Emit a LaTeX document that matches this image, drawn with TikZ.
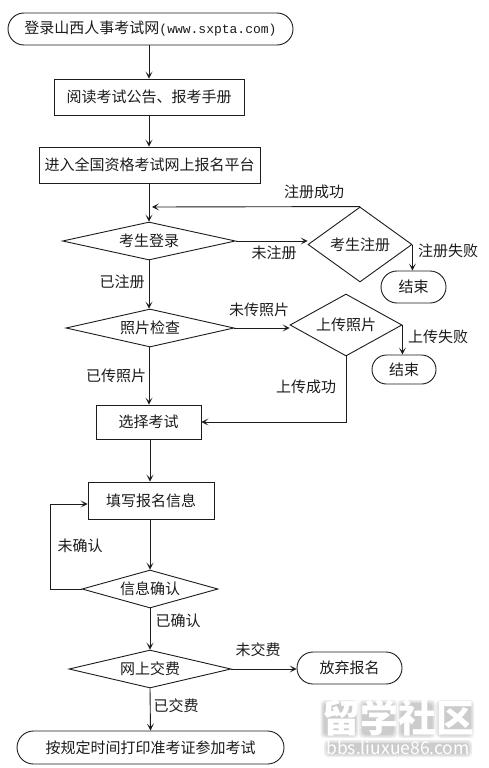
\documentclass[tikz,border=0pt]{standalone}
\usepackage{fontspec}
\setmainfont{Noto Sans CJK SC}
\newfontfamily\latfont{Liberation Mono}
\usetikzlibrary{shapes.geometric,shapes.misc,arrows.meta,calc}
\definecolor{ink}{HTML}{1C1C1C}
\tikzset{
  base/.style={draw=ink,line width=0.9pt,text=ink,inner sep=0pt,font=\fontsize{15}{16}\selectfont},
  boxn/.style={base,rectangle,anchor=center},
  term/.style={base,rounded rectangle},
  dia/.style={base,diamond},
  lab/.style={text=ink,inner sep=0pt,font=\fontsize{15}{16}\selectfont},
  conn/.style={draw=ink,line width=0.9pt,-{Stealth[length=7pt,width=7pt,inset=3.5pt]}},
  soft/.style={fill=black,opacity=0.07,rounded corners=4pt},
}
\begin{document}
\begin{tikzpicture}[x=1pt,y=-1pt]
\useasboundingbox (0,0) rectangle (488,768);
\fill[white] (0,0) rectangle (488,768);
% nodes
\node[term,minimum width=285pt,minimum height=32pt] (top) at (150.5,29) {登录山西人事考试网{\latfont\fontsize{13}{14}\selectfont (www.sxpta.com)}};
\node[boxn,minimum width=190pt,minimum height=36pt] (read) at (149,97) {阅读考试公告、报考手册};
\node[boxn,minimum width=221pt,minimum height=36pt] (enter) at (149.5,165) {进入全国资格考试网上报名平台};
\node[dia,aspect=4.5,minimum width=173pt,minimum height=38pt] (login) at (149,241) {考生登录};
\node[dia,aspect=1.4,minimum width=104pt,minimum height=75pt] (reg) at (360,244.5) {考生注册};
\node[term,minimum width=65pt,minimum height=32pt] (endA) at (413.5,287) {结束};
\node[dia,aspect=4.4,minimum width=168pt,minimum height=38pt] (photo) at (150,328) {照片检查};
\node[dia,aspect=1.8,minimum width=112pt,minimum height=62pt] (upload) at (346,325) {上传照片};
\node[term,minimum width=64pt,minimum height=29pt] (endB) at (404,369.5) {结束};
\node[boxn,minimum width=105pt,minimum height=34pt] (select) at (148.5,422) {选择考试};
\node[boxn,minimum width=126pt,minimum height=37pt] (fill) at (151,500.5) {填写报名信息};
\node[dia,aspect=3.6,minimum width=136pt,minimum height=38pt] (check) at (150,589) {信息确认};
\node[dia,aspect=4.2,minimum width=162pt,minimum height=38pt] (pay) at (150,669) {网上交费};
\node[term,minimum width=105pt,minimum height=32pt] (quit) at (349.5,668) {放弃报名};
\node[term,minimum width=267pt,minimum height=33pt] (print) at (150.5,747.5) {按规定时间打印准考证参加考试};
% labels
\node[lab] (l1) at (314,192) {注册成功};
\node[lab] (l2) at (274,253) {未注册};
\node[lab] (l3) at (122,282) {已注册};
\node[lab] (l4) at (448,251) {注册失败};
\node[lab] (l5) at (259,310) {未传照片};
\node[lab] (l6) at (438,337) {上传失败};
\node[lab] (l7) at (116,376) {已传照片};
\node[lab] (l8) at (306,387) {上传成功};
\node[lab] (l9) at (80,546) {未确认};
\node[lab] (l10) at (178,621) {已确认};
\node[lab] (l11) at (258,650) {未交费};
\node[lab] (l12) at (176,706) {已交费};
% connectors
\coordinate (joinA) at (152,207);
\coordinate (loopA) at (50,589);
\coordinate (loopB) at (50,504);
\draw[conn] (read.north |- top.south) -- (read.north);
\draw[conn] (read) -- (enter.north -| read.south);
\draw[conn] (enter.south -| login.north) -- (login.north);
\draw[conn] (login.east) -- (login.east -| reg.west);
\draw[conn] (reg.north) -- (joinA);
\draw[conn] (reg.east) -- (reg.east |- endA.north);
\draw[conn] (login.south) -- (login.south |- photo.north);
\draw[conn] (photo.east) -- (photo.east -| upload.west);
\draw[conn] (upload.east) -- (upload.east |- endB.north);
\draw[conn] (login.south |- photo.south) -- (login.south |- select.north);
\draw[conn] (upload.south) |- (select.east);
\draw[conn] (check.north |- select.south) -- (check.north |- fill.north);
\draw[conn] (check.north |- fill.south) -- (check.north);
\draw[conn] (check.west) -- (loopA) -- (loopB) -- (loopB -| fill.west);
\draw[conn] (check.south) -- (pay.north);
\draw[conn] (pay.east) -- (pay.east -| quit.west);
\draw[conn] (pay.south) -- (print.north);
% watermark: soft grey shade under single white text
\foreach \cx in {339.5,378,416.5,455} {
  \foreach \d in {0,1.5,3} {
    \path[soft] (\cx-19+\d,700+\d) rectangle (\cx+19-\d,738-\d);
  }
}
\foreach \d in {0,1.5,3} {
  \path[soft] (324+\d,740+\d) rectangle (472-\d,757-\d);
}
\node[inner sep=0pt,text=white,font=\bfseries\fontsize{38}{40}\selectfont] (wm) at (398,718) {留学社区};
\node[inner sep=0pt,text=white,font=\fontsize{17.5}{18}\selectfont] (wmurl) at (398,748) {bbs.liuxue86.com};
\end{tikzpicture}
\end{document}
